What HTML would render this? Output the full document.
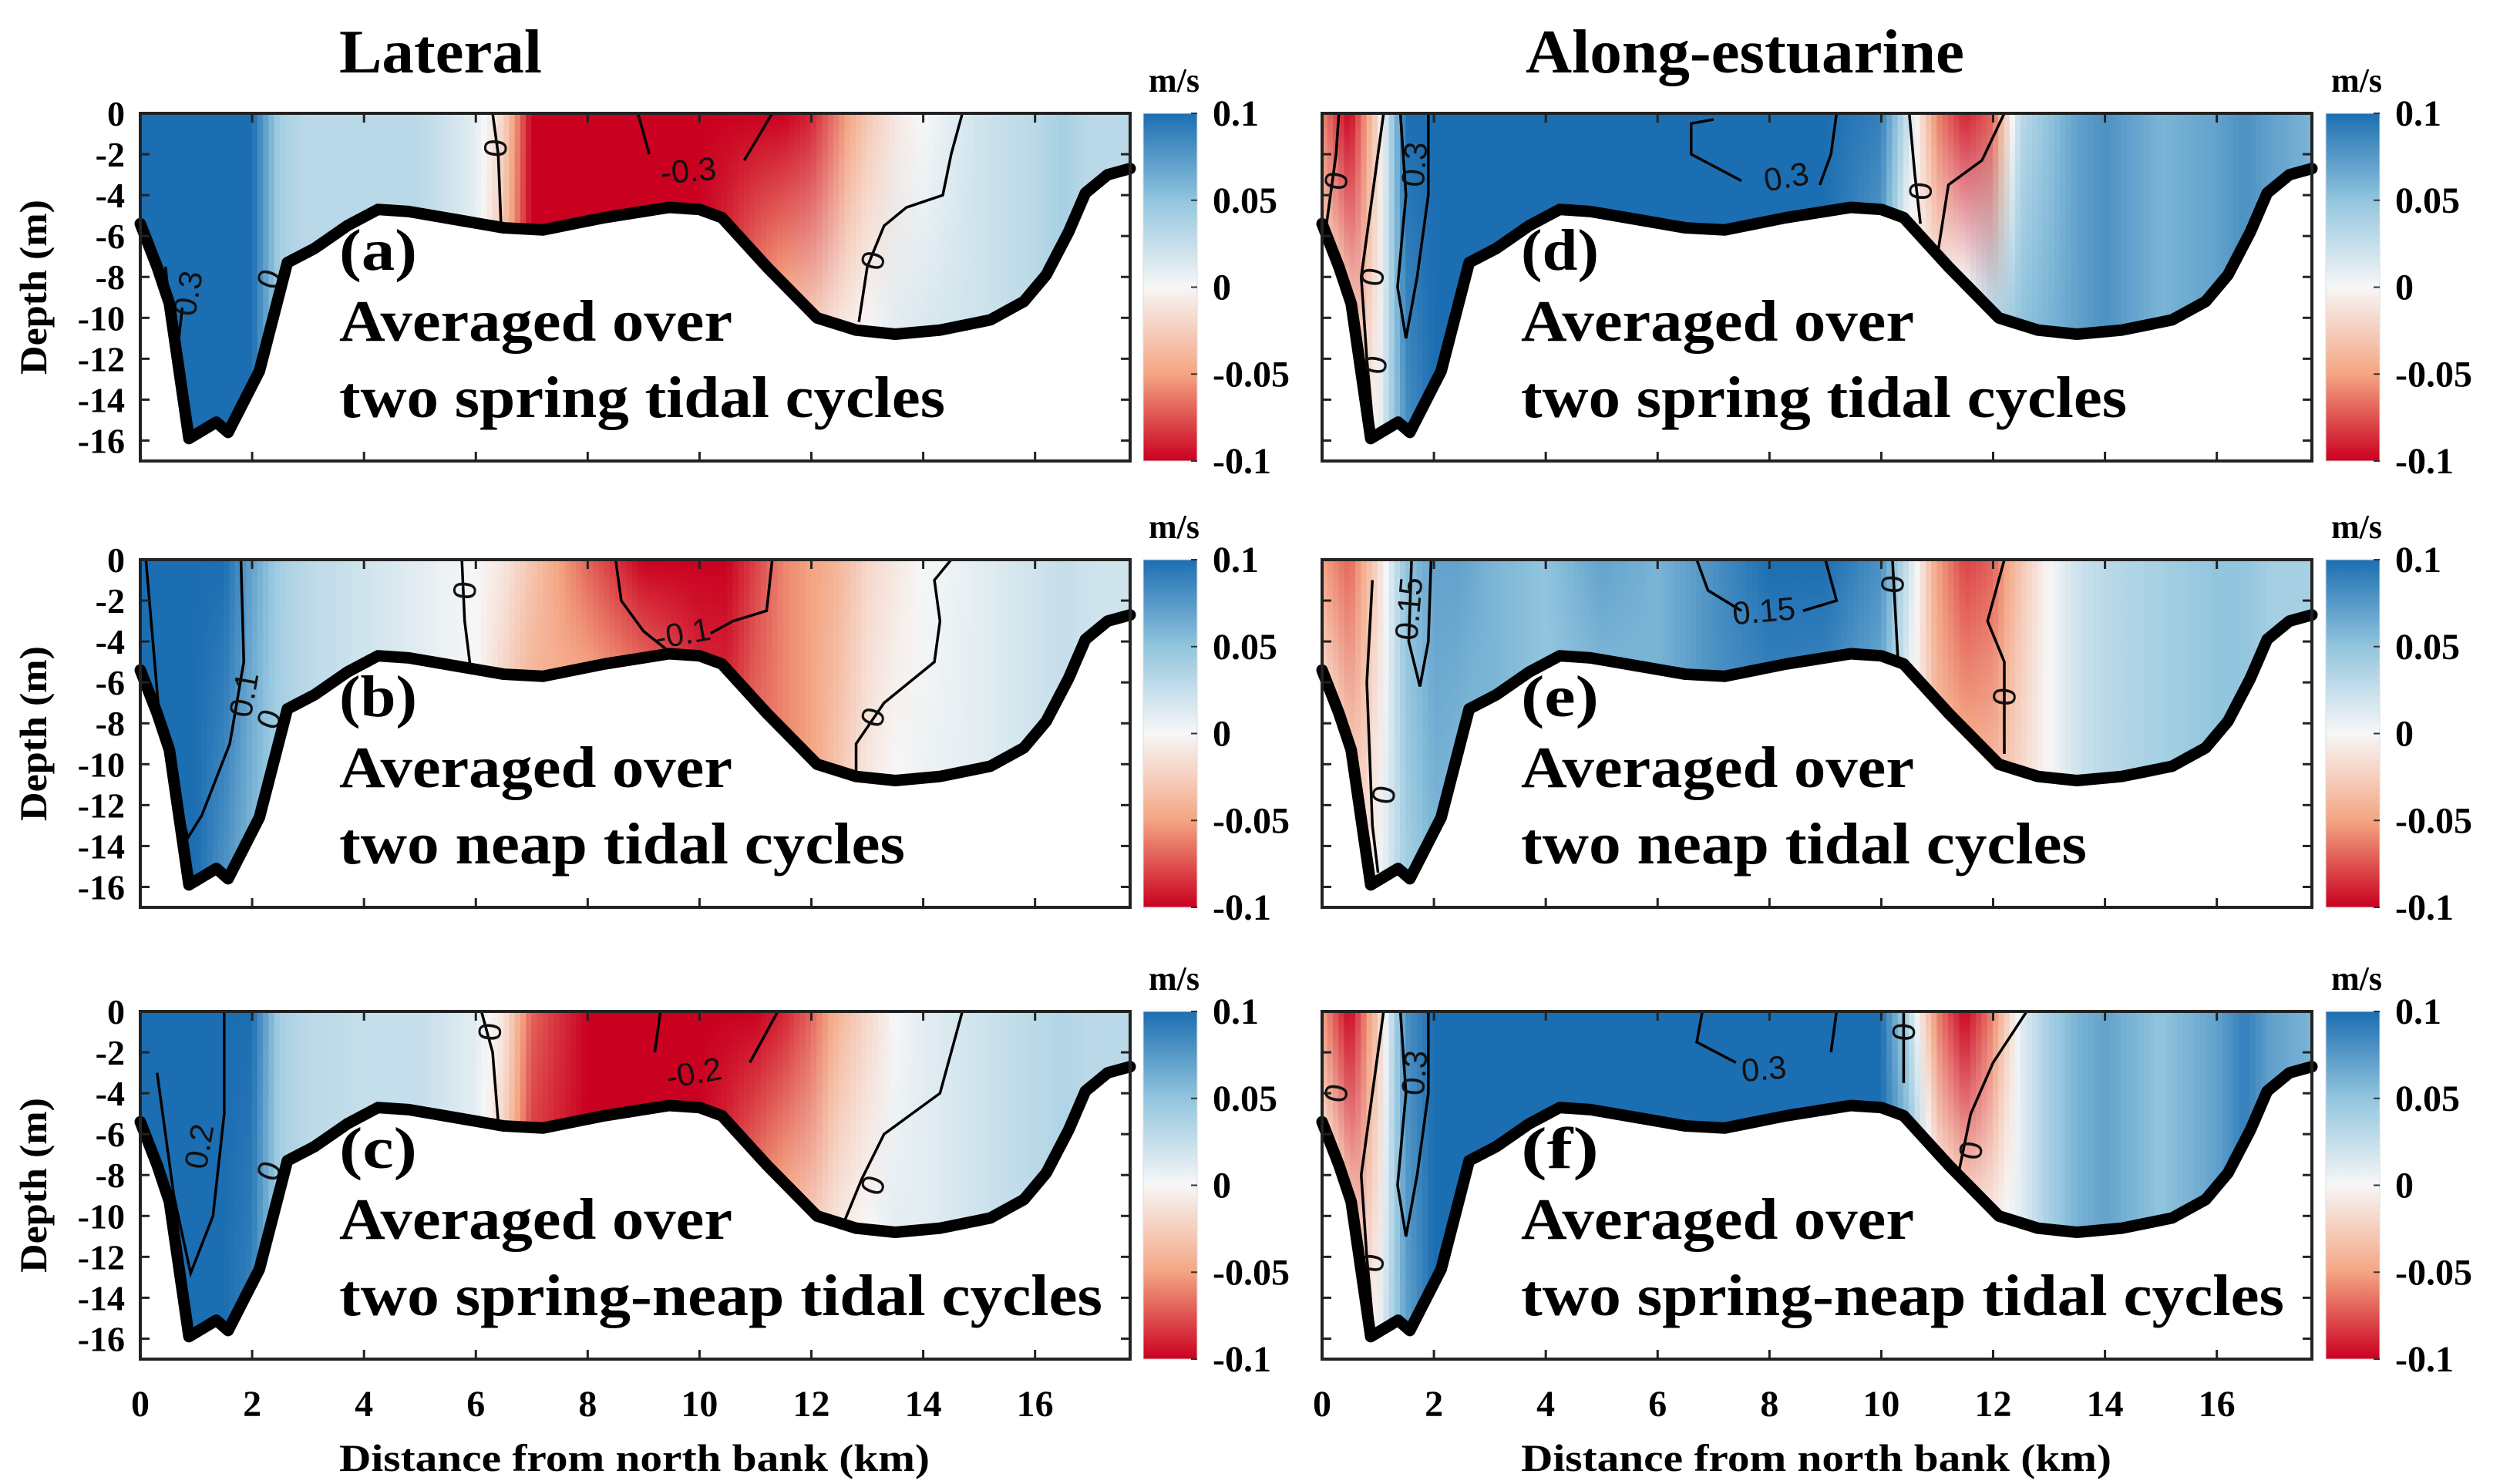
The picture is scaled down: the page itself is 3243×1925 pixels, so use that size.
<!DOCTYPE html>
<html><head><meta charset="utf-8">
<style>
html,body{margin:0;padding:0;background:#fff;}
svg{display:block;}
.serif{font-family:"Liberation Serif",serif;font-weight:bold;}
.sans{font-family:"Liberation Sans",sans-serif;}
</style></head>
<body>
<svg id="fig" xmlns="http://www.w3.org/2000/svg" width="3243" height="1925" viewBox="0 0 3243 1925">
<defs id="defs">
<linearGradient id="cbgrad" x1="0" y1="0" x2="0" y2="1">
<stop offset="0" stop-color="#1c6eb2"/><stop offset="0.25" stop-color="#92c5de"/><stop offset="0.5" stop-color="#f7f7f7"/><stop offset="0.75" stop-color="#f4a582"/><stop offset="1" stop-color="#ca0020"/>
</linearGradient>
</defs>
<text class="serif" x="440" y="94" font-size="80" textLength="263" lengthAdjust="spacingAndGlyphs">Lateral</text>
<text class="serif" x="1979" y="94" font-size="80" textLength="569" lengthAdjust="spacingAndGlyphs">Along-estuarine</text>
<g id="panels"></g>
</svg>
<script>
// ---------- data ----------
const bathX = [0,0.3,0.52,0.87,1.36,1.57,2.13,2.63,3.12,3.7,4.25,4.8,5.65,6.5,7.2,8.3,9.45,10.0,10.4,11.2,12.1,12.8,13.5,14.3,15.2,15.8,16.2,16.6,16.9,17.3,17.7];
const bathD = [-5.4,-7.5,-9.3,-15.9,-15.1,-15.6,-12.6,-7.3,-6.6,-5.5,-4.7,-4.8,-5.2,-5.6,-5.7,-5.1,-4.6,-4.7,-5.1,-7.5,-10.0,-10.6,-10.8,-10.6,-10.1,-9.2,-7.9,-5.8,-3.9,-3.0,-2.7];
const knotX = [0,0.5,1,1.5,2,2.5,3,4,5,6,6.5,7,8,9,10,10.5,11,11.5,12,12.5,13,13.5,14,15,16,16.5,17,17.7];
const surfA = [0.1,0.1,0.1,0.1,0.1,0.04,0.03,0.03,0.03,0.01,-0.02,-0.1,-0.1,-0.1,-0.1,-0.1,-0.1,-0.1,-0.09,-0.06,-0.03,-0.01,0.0,0.02,0.03,0.04,0.03,0.03];
const botA  = [0.1,0.1,0.1,0.1,0.1,0.04,0.03,0.03,0.03,0.01,-0.03,-0.1,-0.1,-0.1,-0.1,-0.09,-0.07,-0.05,-0.03,-0.01,0.0,0.01,0.015,0.02,0.03,0.04,0.03,0.03];
const surfB = [0.1,0.1,0.1,0.1,0.07,0.04,0.03,0.02,0.01,0.0,-0.01,-0.03,-0.07,-0.1,-0.1,-0.1,-0.08,-0.06,-0.05,-0.04,-0.02,-0.01,0.0,0.01,0.02,0.025,0.02,0.02];
const botB  = [0.1,0.1,0.1,0.08,0.06,0.04,0.03,0.02,0.01,0.0,-0.02,-0.04,-0.05,-0.07,-0.09,-0.09,-0.07,-0.06,-0.05,-0.03,-0.01,0.0,0.005,0.01,0.02,0.025,0.02,0.02];
const surfC = [0.1,0.1,0.1,0.1,0.1,0.04,0.03,0.025,0.025,0.01,-0.01,-0.07,-0.1,-0.1,-0.1,-0.1,-0.1,-0.09,-0.07,-0.04,-0.02,0.0,0.01,0.02,0.03,0.035,0.03,0.03];
const botC  = [0.1,0.1,0.1,0.1,0.09,0.04,0.03,0.025,0.025,0.01,-0.02,-0.08,-0.1,-0.1,-0.1,-0.09,-0.07,-0.05,-0.03,-0.01,0.0,0.01,0.01,0.02,0.03,0.035,0.03,0.03];
const surfD = [-0.06,-0.1,-0.02,0.1,0.1,0.1,0.1,0.1,0.1,0.1,0.1,0.1,0.1,0.1,0.09,0.02,-0.06,-0.09,-0.07,0.03,0.05,0.07,0.08,0.06,0.07,0.08,0.07,0.06];
const botD  = [-0.03,-0.03,0.0,0.08,0.1,0.1,0.1,0.1,0.1,0.1,0.1,0.1,0.1,0.1,0.08,0.0,-0.02,0.0,0.03,0.05,0.06,0.07,0.08,0.06,0.07,0.08,0.07,0.06];
const surfE = [-0.05,-0.07,-0.02,0.05,0.07,0.07,0.06,0.05,0.07,0.06,0.07,0.08,0.1,0.1,0.08,0.02,-0.05,-0.08,-0.07,-0.03,0.0,0.02,0.03,0.04,0.05,0.05,0.04,0.04];
const botE  = [-0.02,-0.03,0.0,0.04,0.06,0.06,0.06,0.05,0.06,0.06,0.07,0.08,0.09,0.09,0.07,0.01,-0.04,-0.05,-0.04,-0.02,0.0,0.02,0.03,0.04,0.05,0.05,0.04,0.04];
const surfF = [-0.05,-0.1,-0.03,0.08,0.1,0.1,0.1,0.1,0.1,0.1,0.1,0.1,0.1,0.1,0.1,0.03,-0.06,-0.1,-0.06,0.01,0.04,0.06,0.07,0.05,0.07,0.09,0.07,0.06];
const botF  = [-0.02,-0.03,0.0,0.07,0.1,0.1,0.1,0.1,0.1,0.1,0.1,0.1,0.1,0.1,0.1,0.05,-0.02,-0.03,-0.01,0.01,0.04,0.06,0.07,0.05,0.07,0.09,0.07,0.06];
const xTickLabels = ["0","2","4","6","8","10","12","14","16"];
const yTickLabels = ["0","-2","-4","-6","-8","-10","-12","-14","-16"];
const cbTickLabels = ["0.1","0.05","0","-0.05","-0.1"];
const cbTickValues = [0.1,0.05,0,-0.05,-0.1];
const contoursA = [[[0.45,-7.5],[0.55,-10],[0.65,-12],[0.75,-9.5]],[[6.3,0],[6.4,-2],[6.45,-5.4]],[[8.9,0],[9.1,-2]],[[11.3,0],[10.8,-2.3]],[[14.7,0],[14.5,-2],[14.35,-4],[13.7,-4.6],[13.3,-5.5],[13.0,-7.5],[12.85,-10.2]]];
const labelsA = [["0.3",0.85,-8.8,-80],["0",2.3,-8.1,-70],["0",6.35,-1.7,-85],["-0.3",9.8,-2.8,-5],["0",13.1,-7.2,-75]];
const contoursB = [[[0.1,0],[0.35,-8],[0.85,-13.6],[1.1,-12.5],[1.6,-9],[1.85,-5],[1.8,0]],[[5.75,0],[5.8,-3],[5.9,-5.2]],[[8.5,0],[8.6,-2],[9,-3.5],[9.6,-4.8]],[[11.3,0],[11.2,-2.5],[10.6,-3],[10.2,-3.6]],[[14.5,0],[14.2,-1],[14.3,-3],[14.2,-5],[13.3,-7],[12.8,-9],[12.8,-10.5]]];
const labelsB = [["0.1",1.85,-6.6,-80],["0",2.3,-7.8,-70],["0",5.8,-1.5,-85],["-0.1",9.7,-3.6,-10],["0",13.1,-7.7,-70]];
const contoursC = [[[0.3,-3],[0.6,-9],[0.9,-12.8],[1.3,-10],[1.5,-5],[1.5,0]],[[6.1,0],[6.3,-2],[6.4,-5.4]],[[9.3,0],[9.2,-2]],[[11.4,0],[10.9,-2.5]],[[14.7,0],[14.3,-4],[13.3,-6],[12.9,-8.2],[12.6,-10.2]]];
const labelsC = [["0.2",1.05,-6.6,-80],["0",2.3,-7.8,-70],["0",6.25,-1,-85],["-0.2",9.9,-3,-10],["0",13.1,-8.5,-70]];
const contoursD = [[[1.1,0],[0.9,-4],[0.7,-8],[0.8,-12],[0.9,-15]],[[0.3,0],[0.25,-2],[0.05,-6]],[[1.4,0],[1.9,0],[1.9,-4],[1.7,-8],[1.5,-11],[1.35,-8.5],[1.5,-4],[1.4,0]],[[7.0,-0.3],[6.6,-0.5],[6.6,-2],[7.5,-3.3]],[[9.2,0],[9.1,-2],[8.9,-3.5]],[[10.5,0],[10.6,-3],[10.7,-5.4]],[[12.2,0],[11.8,-2.3],[11.2,-3.5],[11.0,-7]]];
const labelsD = [["0.3",1.65,-2.5,-85],["0.3",8.3,-3.1,-10],["0",10.7,-3.8,-85],["0",0.25,-3.3,-80],["0",0.95,-12.3,-80],["0",0.9,-8,-80]];
const contoursE = [[[0.9,-1],[0.8,-6],[0.9,-13],[1.0,-15.3]],[[1.6,0],[1.95,0],[1.9,-4],[1.75,-6.2],[1.55,-4],[1.6,0]],[[6.7,0],[6.9,-1.5],[7.5,-2.5]],[[9,0],[9.2,-2],[8.6,-2.5]],[[10.2,0],[10.3,-5]],[[12.2,0],[11.9,-3],[12.2,-5],[12.2,-9.5]]];
const labelsE = [["0.15",1.55,-2.4,-85],["0.15",7.9,-2.5,-5],["0",10.2,-1.2,-85],["0",12.2,-6.7,-85],["0",1.1,-11.5,-80]];
const contoursF = [[[1.1,0],[0.9,-4],[0.7,-8],[0.8,-12],[0.9,-15]],[[1.4,0],[1.9,0],[1.9,-4],[1.7,-8],[1.5,-11],[1.35,-8.5],[1.5,-4],[1.4,0]],[[6.8,0],[6.7,-1.5],[7.4,-2.5]],[[9.2,0],[9.1,-2]],[[10.4,0],[10.4,-3.5]],[[12.6,0],[12.0,-2.5],[11.6,-5],[11.3,-9]]];
const labelsF = [["0.3",1.65,-3,-85],["0.3",7.9,-2.8,-5],["0",10.4,-1,-85],["0",11.6,-6.8,-80],["0",0.9,-12.3,-80],["0",0.25,-4,-80]];

// ---------- layout ----------
const NS = "http://www.w3.org/2000/svg";
const colX = [182, 1715];
const rowY = [147, 726, 1312];
const PW = 1284, PH = 451, XMAX = 17.7, YMIN = -17;
const panelsDef = [
 {id:"a", col:0,row:0, s:surfA,b:botA,c:contoursA,l:labelsA, t:"two spring tidal cycles", tw:786},
 {id:"b", col:0,row:1, s:surfB,b:botB,c:contoursB,l:labelsB, t:"two neap tidal cycles", tw:734},
 {id:"c", col:0,row:2, s:surfC,b:botC,c:contoursC,l:labelsC, t:"two spring-neap tidal cycles", tw:990},
 {id:"d", col:1,row:0, s:surfD,b:botD,c:contoursD,l:labelsD, t:"two spring tidal cycles", tw:786},
 {id:"e", col:1,row:1, s:surfE,b:botE,c:contoursE,l:labelsE, t:"two neap tidal cycles", tw:734},
 {id:"f", col:1,row:2, s:surfF,b:botF,c:contoursF,l:labelsF, t:"two spring-neap tidal cycles", tw:990}
];
function interp(xs, ys, x){
  if (x<=xs[0]) return ys[0];
  for (let i=1;i<xs.length;i++){ if (x<=xs[i]){ const f=(x-xs[i-1])/(xs[i]-xs[i-1]); return ys[i-1]+f*(ys[i]-ys[i-1]); } }
  return ys[ys.length-1];
}
const stops = [[-0.1,[202,0,32]],[-0.05,[244,165,130]],[0,[247,247,247]],[0.05,[146,197,222]],[0.1,[28,110,178]]];
function cmap(v){
  v=Math.max(-0.1,Math.min(0.1,v));
  for (let i=1;i<stops.length;i++){ if (v<=stops[i][0]+1e-12){ const f=(v-stops[i-1][0])/(stops[i][0]-stops[i-1][0]); const a=stops[i-1][1], b=stops[i][1];
    return "rgb("+Math.round(a[0]+f*(b[0]-a[0]))+","+Math.round(a[1]+f*(b[1]-a[1]))+","+Math.round(a[2]+f*(b[2]-a[2]))+")"; } }
}
function mk(tag, attrs, parent){ const e=document.createElementNS(NS,tag); for (const k in attrs) e.setAttribute(k,attrs[k]); if(parent) parent.appendChild(e); return e; }
const defs = document.getElementById("defs");
const root = document.getElementById("panels");

panelsDef.forEach(p=>{
  const x0=colX[p.col], y0=rowY[p.row];
  const sx = km => x0 + km/XMAX*PW;
  const sy = d => y0 + (d/YMIN)*PH;
  const g = mk("g",{}, root);
  
  
  const cp = mk("clipPath",{id:"clip"+p.id}, defs);
  let pts = sx(0)+","+sy(0)+" ";
  bathX.forEach((x,i)=>{ pts += sx(x)+","+sy(bathD[i])+" "; });
  pts += sx(XMAX)+","+sy(0);
  mk("polygon",{points:pts}, cp);
  const field = mk("g",{"clip-path":"url(#clip"+p.id+")"}, g);
  
  
  const step=0.1;
  for (let k=0;k<XMAX;k+=step){
    const xm=k+step/2;
    const dep=interp(bathX,bathD,xm);
    const gid="g"+p.id+Math.round(k*10);
    const lg=mk("linearGradient",{id:gid,gradientUnits:"userSpaceOnUse",x1:0,y1:sy(0),x2:0,y2:sy(dep)}, defs);
    mk("stop",{offset:0,"stop-color":cmap(interp(knotX,p.s,xm))}, lg);
    mk("stop",{offset:1,"stop-color":cmap(interp(knotX,p.b,xm))}, lg);
    const r=mk("rect",{x:sx(k)-0.5,y:sy(0),width:(PW/XMAX*step)+1.2,height:sy(dep)-sy(0)+20,fill:"url(#"+gid+")"}, field);
    
    
  }
  p.c.forEach(c=>{
    const pl=mk("polyline",{points:c.map(q=>sx(q[0])+","+sy(q[1])).join(" "),fill:"none",stroke:"#000","stroke-width":3.5,"clip-path":"url(#clip"+p.id+")"}, g);
    
    
  });
  p.l.forEach(l=>{
    const t=mk("text",{x:sx(l[1]),y:sy(l[2]),"font-size":42,"text-anchor":"middle","dominant-baseline":"central","class":"sans",transform:"rotate("+l[3]+" "+sx(l[1])+" "+sy(l[2])+")",fill:"#111"}, g);
    t.textContent=l[0];
    
    
  });
  const bl=mk("polyline",{points:bathX.map((x,i)=>sx(x)+","+sy(bathD[i])).join(" "),fill:"none",stroke:"#000","stroke-width":15,"stroke-linejoin":"round","stroke-linecap":"round"}, g);
  
  
  const fr=mk("rect",{x:x0,y:y0,width:PW,height:PH,fill:"none",stroke:"#222","stroke-width":4}, g);
  
  
  xTickLabels.forEach((lab,i)=>{
    const km=i*2, X=sx(km);
    mk("line",{x1:X,y1:y0+PH,x2:X,y2:y0+PH-12,stroke:"#222","stroke-width":3}, g);
    mk("line",{x1:X,y1:y0,x2:X,y2:y0+12,stroke:"#222","stroke-width":3}, g);
    if (p.row===2){
      const t=mk("text",{x:X,y:y0+PH+74,"font-size":48,"text-anchor":"middle","class":"serif"}, g);
      t.textContent=lab;
      
      
    }
  });
  yTickLabels.forEach((lab,i)=>{
    const Y=sy(-2*i);
    mk("line",{x1:x0,y1:Y,x2:x0+12,y2:Y,stroke:"#222","stroke-width":3}, g);
    mk("line",{x1:x0+PW,y1:Y,x2:x0+PW-12,y2:Y,stroke:"#222","stroke-width":3}, g);
    if (p.col===0){
      const t=mk("text",{x:x0-20,y:Y+16,"font-size":46,"text-anchor":"end","class":"serif"}, g);
      t.textContent=lab;
      
      
    }
  });
  if (p.col===0){
    const cy=y0+PH/2;
    const t=mk("text",{x:60,y:cy,"font-size":50,"text-anchor":"middle","class":"serif",transform:"rotate(-90 60 "+cy+")",textLength:227,lengthAdjust:"spacingAndGlyphs"}, g);
    t.textContent="Depth (m)";
    
    
  }
  if (p.row===2){
    const t=mk("text",{x:x0+258,y:y0+PH+145,"font-size":50,"class":"serif",textLength:766,lengthAdjust:"spacingAndGlyphs"}, g);
    t.textContent="Distance from north bank (km)";
    
    
  }
  const ax=x0+258;
  const t1=mk("text",{x:ax,y:y0+203,"font-size":76,"class":"serif",textLength:101,lengthAdjust:"spacingAndGlyphs"}, g);
  t1.textContent="("+p.id+")";
  
  
  const t2=mk("text",{x:ax,y:y0+295,"font-size":76,"class":"serif",textLength:510,lengthAdjust:"spacingAndGlyphs"}, g);
  t2.textContent="Averaged over";
  
  
  const t3=mk("text",{x:ax,y:y0+394,"font-size":76,"class":"serif",textLength:p.tw,lengthAdjust:"spacingAndGlyphs"}, g);
  t3.textContent=p.t;
  
  
  const cbx = p.col===0 ? 1483 : 3017;
  const cb=mk("rect",{x:cbx,y:y0,width:70,height:PH,fill:"url(#cbgrad)",stroke:"#ddd","stroke-width":1}, g);
  
  
  cbTickValues.forEach((v,i)=>{
    const Y=y0+(0.1-v)/0.2*PH;
    mk("line",{x1:cbx+70,y1:Y,x2:cbx+62,y2:Y,stroke:"#333","stroke-width":2}, g);
    const t=mk("text",{x:cbx+90,y:Y+16,"font-size":48,"class":"serif"}, g);
    t.textContent=cbTickLabels[i];
    
    
  });
  const mu=mk("text",{x:cbx+40,y:y0-28,"font-size":44,"text-anchor":"middle","class":"serif"}, g);
  mu.textContent="m/s";
  
  
});
</script>
</body></html>
